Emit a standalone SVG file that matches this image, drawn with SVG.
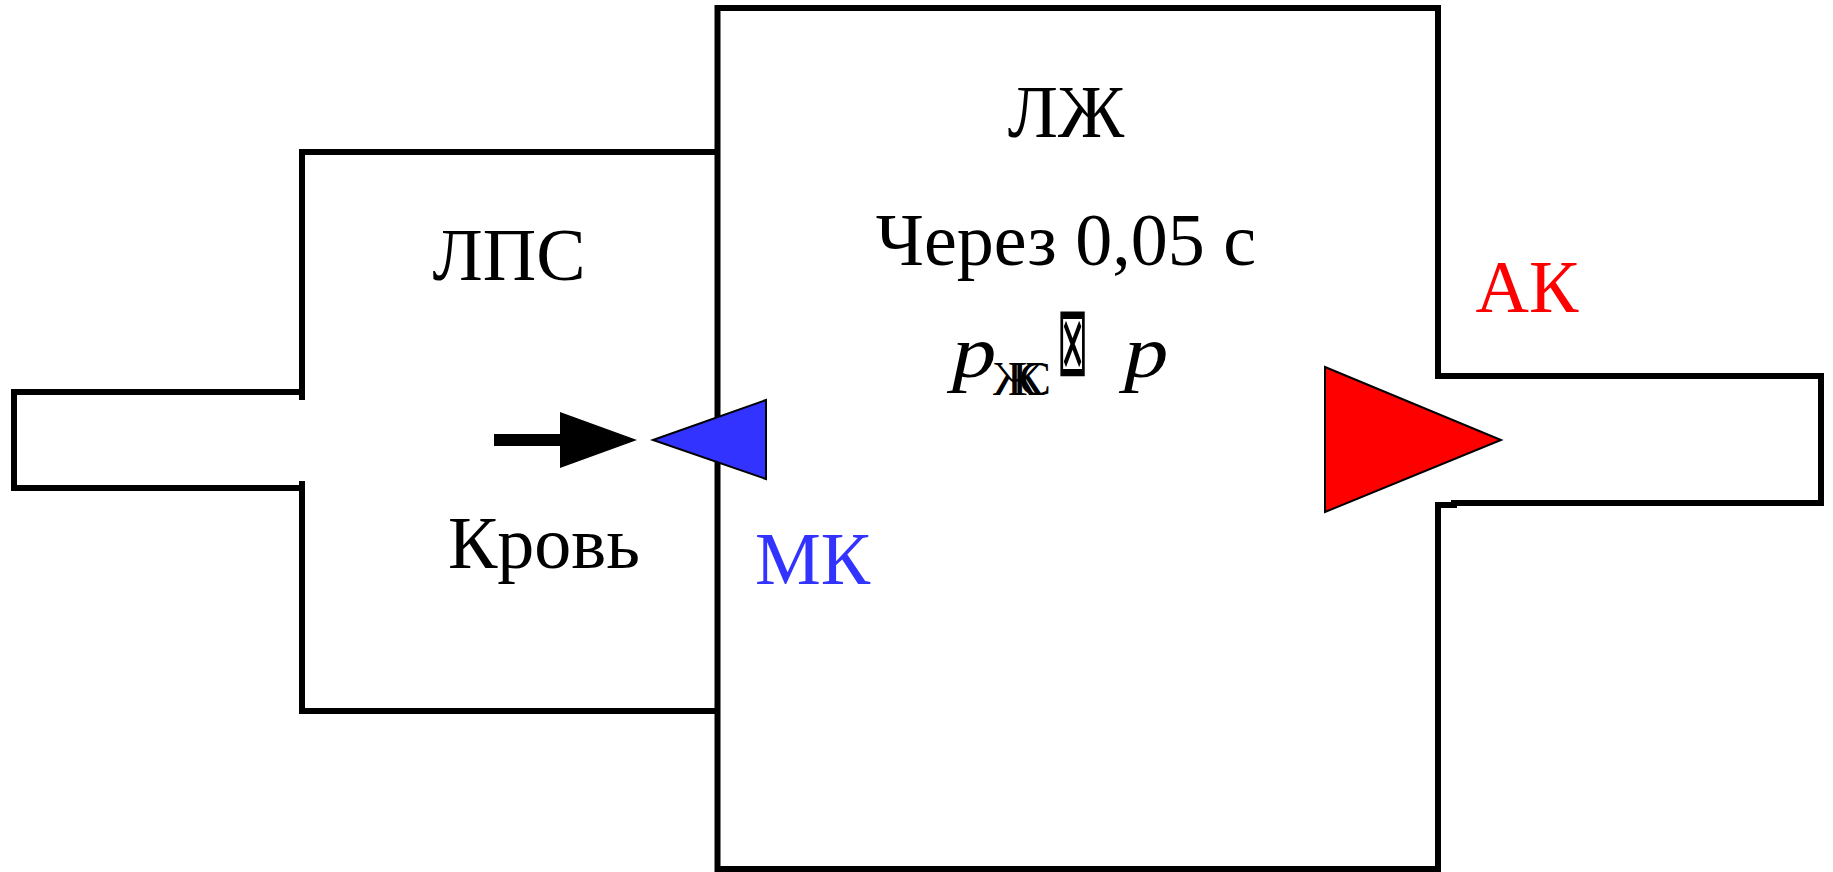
<svg xmlns="http://www.w3.org/2000/svg" width="1833" height="872" viewBox="0 0 1833 872">
  <style>
    .wall { fill: none; stroke: #000; stroke-width: 6; stroke-linecap: square; stroke-linejoin: miter; }
    .lbl { font-family: "Liberation Serif", "Times New Roman", serif; font-size: 74px; fill: #000; }
    .mid { text-anchor: middle; }
    .ital { font-style: italic; }
    .valve { stroke: #000; stroke-width: 2; stroke-linejoin: miter; }
  </style>
  <rect width="1833" height="872" fill="#fff"/>

  <!-- left atrium with the inlet pipe -->
  <g id="lps">
    <path class="wall" d="M302,397 V152 H717"/>
    <path class="wall" d="M302,484 V711 H717"/>
    <path class="wall" d="M302,392 H14 V488 H302"/>
    <text class="lbl mid" x="509" y="280">ЛПС</text>
    <text class="lbl mid" x="544" y="568">Кровь</text>
  </g>

  <!-- left ventricle with the outlet pipe -->
  <g id="lv">
    <path class="wall" d="M717.5,415 V8 H1438 V376"/>
    <path class="wall" d="M717.5,465 V869 H1438 V505"/>
    <path class="wall" d="M1438,376 H1821 V503 H1454"/>
    <path class="wall" d="M1438,505 H1454"/>
    <text class="lbl mid" x="1066" y="137">ЛЖ</text>
    <text class="lbl mid" x="1066" y="265">Через 0,05 с</text>
    <g id="pressure">
      <text class="lbl ital" transform="translate(952,377) scale(1.2,1)">p</text>
      <text class="lbl" x="993" y="395" style="font-size:48px" textLength="58" lengthAdjust="spacing">ЖКС</text>
      <text style="font-family:'DejaVu Sans',sans-serif;font-size:60px;fill:#000" transform="translate(1057,375) scale(0.62,1.65)">⊠</text>
      <text class="lbl ital" transform="translate(1124,377) scale(1.2,1)">p</text>
    </g>
  </g>

  <!-- mitral valve -->
  <g id="mk">
    <polygon class="valve" fill="#3333ff" points="653,440 766,400 766,479"/>
    <text class="lbl" x="755" y="584" style="fill:#3333ff">МК</text>
  </g>

  <!-- aortic valve -->
  <g id="ak">
    <polygon class="valve" fill="#ff0000" points="1325,367 1501,440 1325,512"/>
    <text class="lbl mid" x="1527" y="312" style="fill:#ff0000">АК</text>
  </g>

  <!-- blood flow arrow -->
  <g id="connectors">
    <rect x="494" y="434" width="67" height="12" fill="#000"/>
    <polygon points="560,412 637,440 560,468" fill="#000"/>
  </g>
</svg>
